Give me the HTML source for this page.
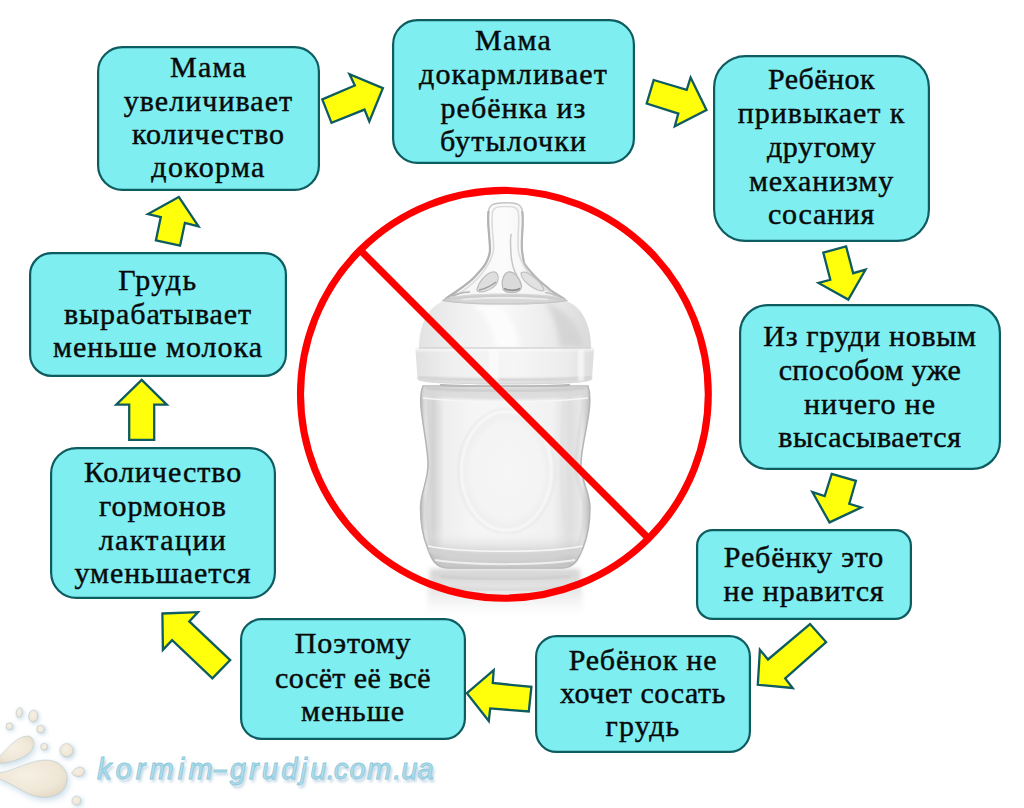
<!DOCTYPE html>
<html lang="ru">
<head>
<meta charset="utf-8">
<title>Докорм из бутылочки</title>
<style>
html,body{margin:0;padding:0;background:#fff;}
body{width:1024px;height:808px;position:relative;overflow:hidden;font-family:"Liberation Serif",serif;}
.t{position:absolute;text-align:center;white-space:nowrap;font-size:30px;line-height:34px;height:34px;letter-spacing:0.8px;color:#0a0a0a;-webkit-text-stroke:0.45px #0a0a0a;}
svg{position:absolute;left:0;top:0;}
#logo{position:absolute;left:97px;top:749px;font-family:"Liberation Sans",sans-serif;font-style:italic;font-weight:normal;font-size:29px;line-height:40px;color:#B0E0EE;-webkit-text-stroke:0.9px #8FC8DB;white-space:nowrap;text-shadow:2px 3px 3px rgba(150,185,210,0.7);}
#logo span{position:absolute;top:0;display:block;}
</style>
</head>
<body>
<svg id="art" width="1024" height="808" viewBox="0 0 1024 808">
<defs>
  <linearGradient id="gBody" x1="0" y1="0" x2="1" y2="0">
    <stop offset="0" stop-color="#bdbdbd"/>
    <stop offset="0.03" stop-color="#e2e2e2"/>
    <stop offset="0.075" stop-color="#d2d2d2"/>
    <stop offset="0.14" stop-color="#eeeeee"/>
    <stop offset="0.3" stop-color="#f5f5f5"/>
    <stop offset="0.5" stop-color="#f6f6f6"/>
    <stop offset="0.78" stop-color="#f1f1f1"/>
    <stop offset="0.88" stop-color="#dedede"/>
    <stop offset="0.95" stop-color="#e8e8e8"/>
    <stop offset="1" stop-color="#bcbcbc"/>
  </linearGradient>
  <linearGradient id="gBodyV" x1="0" y1="0" x2="0" y2="1">
    <stop offset="0" stop-color="#bbb" stop-opacity="0.35"/>
    <stop offset="0.08" stop-color="#fff" stop-opacity="0"/>
    <stop offset="0.78" stop-color="#fff" stop-opacity="0"/>
    <stop offset="0.9" stop-color="#bdbdbd" stop-opacity="0.45"/>
    <stop offset="1" stop-color="#b0b0b0" stop-opacity="0.7"/>
  </linearGradient>
  <linearGradient id="gCap" x1="0" y1="0" x2="1" y2="0">
    <stop offset="0" stop-color="#e2e2e2"/>
    <stop offset="0.25" stop-color="#f1f1f1"/>
    <stop offset="0.5" stop-color="#f8f8f8"/>
    <stop offset="0.72" stop-color="#eeeeee"/>
    <stop offset="1" stop-color="#dadada"/>
  </linearGradient>
  <linearGradient id="gRing" x1="0" y1="0" x2="1" y2="0">
    <stop offset="0" stop-color="#e1e1e1"/>
    <stop offset="0.2" stop-color="#efefef"/>
    <stop offset="0.55" stop-color="#f6f6f6"/>
    <stop offset="0.85" stop-color="#ececec"/>
    <stop offset="1" stop-color="#dddddd"/>
  </linearGradient>
  <linearGradient id="gRingV" x1="0" y1="0" x2="0" y2="1">
    <stop offset="0" stop-color="#fff" stop-opacity="0.8"/>
    <stop offset="0.15" stop-color="#fff" stop-opacity="0"/>
    <stop offset="0.8" stop-color="#ccc" stop-opacity="0"/>
    <stop offset="1" stop-color="#bbb" stop-opacity="0.55"/>
  </linearGradient>
  <linearGradient id="gNip" x1="0" y1="0" x2="1" y2="0">
    <stop offset="0" stop-color="#cfcfcf"/>
    <stop offset="0.12" stop-color="#f4f4f4"/>
    <stop offset="0.5" stop-color="#fbfbfb"/>
    <stop offset="0.88" stop-color="#f0f0f0"/>
    <stop offset="1" stop-color="#cdcdcd"/>
  </linearGradient>
  <linearGradient id="gRefl" x1="0" y1="0" x2="0" y2="1">
    <stop offset="0" stop-color="#cfcfcf" stop-opacity="0.95"/>
    <stop offset="0.4" stop-color="#e0e0e0" stop-opacity="0.8"/>
    <stop offset="1" stop-color="#ffffff" stop-opacity="0"/>
  </linearGradient>
  <radialGradient id="gOval" cx="0.5" cy="0.5" r="0.5">
    <stop offset="0" stop-color="#f6f6f6"/>
    <stop offset="0.8" stop-color="#f4f4f4"/>
    <stop offset="1" stop-color="#ededed"/>
  </radialGradient>
  <filter id="blur05"><feGaussianBlur stdDeviation="0.5"/></filter>
  <filter id="blur1"><feGaussianBlur stdDeviation="1"/></filter>
  <filter id="blur2"><feGaussianBlur stdDeviation="2.5"/></filter>
</defs>
<g id="bottle">
  <!-- reflection -->
  <path d="M430,569 L580,569 C582,590 583,605 584,622 L426,622 C427,605 428,590 430,569 Z" fill="url(#gRefl)" filter="url(#blur2)"/>
  <path d="M440,576 C470,580 540,580 570,576" fill="none" stroke="#cfcfcf" stroke-width="3.5" filter="url(#blur1)"/>
  <path d="M436,586 C470,591 540,591 574,586" fill="none" stroke="#dadada" stroke-width="3.5" filter="url(#blur1)"/>
  <!-- glass body -->
  <path d="M423,386 L588,386 C590,392 590.5,400 589,412 C585.5,436 581,450 581,464 C581,482 590,492 590,508 C590,524 587,538 583,548 C579,558 575,568 562,568 L448,568 C435,568 431,558 427.5,548 C423.5,538 420.5,524 420.5,508 C420.5,492 428,482 428,464 C428,450 424.5,436 421.5,412 C420,400 420.5,392 423,386 Z" fill="url(#gBody)"/>
  <path d="M423,386 L588,386 C590,392 590.5,400 589,412 C585.5,436 581,450 581,464 C581,482 590,492 590,508 C590,524 587,538 583,548 C579,558 575,568 562,568 L448,568 C435,568 431,558 427.5,548 C423.5,538 420.5,524 420.5,508 C420.5,492 428,482 428,464 C428,450 424.5,436 421.5,412 C420,400 420.5,392 423,386 Z" fill="url(#gBodyV)"/>
  <path d="M423,386 L588,386 C590,392 590.5,400 589,412 C585.5,436 581,450 581,464 C581,482 590,492 590,508 C590,524 587,538 583,548 C579,558 575,568 562,568 L448,568 C435,568 431,558 427.5,548 C423.5,538 420.5,524 420.5,508 C420.5,492 428,482 428,464 C428,450 424.5,436 421.5,412 C420,400 420.5,392 423,386 Z" fill="none" stroke="#b4b4b4" stroke-width="1.5" filter="url(#blur05)"/>
  <!-- inner side contours -->
  <path d="M428,392 C427,410 432,440 433.5,464 C433.5,482 426.5,494 426.5,508 C426.5,526 430,544 436,556" fill="none" stroke="#d2d2d2" stroke-width="1.6" filter="url(#blur1)"/>
  <path d="M583,392 C584,410 577,440 575.5,464 C575.5,482 584,494 584,508 C584,526 580,544 575,556" fill="none" stroke="#d4d4d4" stroke-width="1.6" filter="url(#blur1)"/>
  <path d="M564,400 C562,430 560,470 563,500 C564,520 566,532 568,542" fill="none" stroke="#e0e0e0" stroke-width="2" filter="url(#blur1)"/>
  <!-- embossed oval -->
  <ellipse cx="506.5" cy="471" rx="45" ry="59" fill="url(#gOval)"/>
  <ellipse cx="506.5" cy="471" rx="45" ry="59" fill="none" stroke="#f9f9f9" stroke-width="2.6" filter="url(#blur1)"/>
  <ellipse cx="506.5" cy="471" rx="48" ry="62" fill="none" stroke="#e2e2e2" stroke-width="1.2" filter="url(#blur1)"/>
  <!-- glass base -->
  <path d="M428,546 C460,553 550,553 582.5,546" fill="none" stroke="#f7f7f7" stroke-width="1.6"/>
  <path d="M429,550 C460,558 550,558 581,550" fill="none" stroke="#d2d2d2" stroke-width="4" filter="url(#blur1)"/>
  <path d="M435,560 C470,565.5 540,565.5 575,560" fill="none" stroke="#efefef" stroke-width="2"/>
  <path d="M441,565.5 C470,568 540,568 569,565.5" fill="none" stroke="#c6c6c6" stroke-width="2.4" filter="url(#blur1)"/>
  <!-- neck / shoulder -->
  <path d="M424,386 L587,386 L588,396 C540,401 470,401 423,396 Z" fill="#d9d9d9" opacity="0.8" filter="url(#blur1)"/>
  <path d="M426,388 C470,392 540,392 585,388" fill="none" stroke="#c0c0c0" stroke-width="1.6" filter="url(#blur1)"/>
  <path d="M423,398 C470,403.5 540,403.5 588,398" fill="none" stroke="#f6f6f6" stroke-width="1.5"/>
  <!-- collar ring -->
  <path d="M415.5,350 C415.5,348 417,347.5 419,347.5 L590.5,347.5 C592.5,347.5 594,348 594,350 L592,379 C592,382 575,384.5 504.5,384.5 C434,384.5 417.5,382 417.5,379 Z" fill="url(#gRing)"/>
  <path d="M415.5,350 C415.5,348 417,347.5 419,347.5 L590.5,347.5 C592.5,347.5 594,348 594,350 L592,379 C592,382 575,384.5 504.5,384.5 C434,384.5 417.5,382 417.5,379 Z" fill="url(#gRingV)"/>
  <path d="M440,384.8 C470,387.2 540,387.2 570,384.8" fill="none" stroke="#b9b9b9" stroke-width="2.2" filter="url(#blur05)"/>
  <path d="M418,377 C440,381 570,381 591.5,377" fill="none" stroke="#d2d2d2" stroke-width="3" filter="url(#blur1)"/>
  <rect x="489" y="349" width="10" height="33" fill="#ffffff" opacity="0.55" filter="url(#blur1)"/>
  <rect x="578" y="349" width="6" height="32" fill="#ffffff" opacity="0.6" filter="url(#blur1)"/>
  <!-- cap dome -->
  <path d="M419,348 C419,322 430,304 447,300 L563,300 C580,304 591,322 591,348 Z" fill="url(#gCap)"/>
  <path d="M545,302 C566,310 580,326 584,347 L560,347 C558,328 552,312 545,302 Z" fill="#cfcfcf" opacity="0.7" filter="url(#blur2)"/>
  <path d="M470,304 C486,312 494,330 496,347 L520,347 C517,330 508,312 495,304 Z" fill="#ffffff" opacity="0.7" filter="url(#blur2)"/>
  <path d="M419,348 L591,348" stroke="#d4d4d4" stroke-width="1.5"/>
  <!-- nipple -->
  <path id="nip" d="M443,300.5 C449,296 453,294 457,291 C464,286 470,282 474.6,277 C480,271 484,267 486,263 C488.5,258 490,254 490,250 C490,245 489.5,240 489,234 C488.2,226 487.8,218 488.5,211 C489.5,204.5 494,202.7 505.4,202.7 C516.8,202.7 521.5,204.5 522.3,211 C523,218 522.8,226 522.2,234 C521.8,240 521.6,245 522,250 C522.4,254 523,258 524,263 C526,267 530,271 535.5,277 C540,282 546,286 551,290.7 C556,294 561,297 566.5,300.5 C540,305 470,305 443,300.5 Z" fill="url(#gNip)" stroke="#c2c2c2" stroke-width="1.4"/>
  <path d="M445,299.5 C449,296 453,294 457,291 C464,286 470,282 474.6,277 C480,271 484,267 486,263 C488.5,258 490,254 490,250 C490,245 489.5,240 489,234 C488.2,226 487.8,218 488.5,211" fill="none" stroke="#b2b2b2" stroke-width="2.2" filter="url(#blur05)"/>
  <path d="M565,299.5 C561,297 556,294 551,290.7 C546,286 540,282 535.5,277 C530,271 526,267 524,263 C523,258 522.4,254 522,250 C521.6,245 521.8,240 522.2,234 C522.8,226 523,218 522.3,211" fill="none" stroke="#b6b6b6" stroke-width="2.2" filter="url(#blur05)"/>
  <!-- inner wall -->
  <path d="M452,298 C462,292 472,285 479,277 C486,269 492,260 493.5,250 C494,244 493,238 492.5,232 C492,224 491.8,217 492.5,212 C493.5,207.5 497,206.5 505.4,206.5 C513.8,206.5 517.5,207.5 518.3,212 C519,217 518.8,224 518.3,232 C518,238 517.8,244 518.3,250 C519.5,260 525,269 532,277 C539,285 549,292 558,298" fill="none" stroke="#dcdcdc" stroke-width="1.6"/>
  <!-- air valve line -->
  <path d="M511.5,234 C510,236 510.5,246 511,254 C511.5,262 513.5,270 517,276" fill="none" stroke="#c6c6c6" stroke-width="1.5"/>
  <!-- petals -->
  <path d="M477,290 C478,283 485,274 492,272 C497,271 499,275 498,280 C497,285 492,289 486,291 C481,292.5 477,292 477,290 Z" fill="#dedede" stroke="#bdbdbd" stroke-width="1.2"/>
  <path d="M479,290 C484,289 491,286 496,282" fill="none" stroke="#9c9c9c" stroke-width="1.3"/>
  <path d="M503,289 C501,282 503,274 508,272 C514,270.5 520,278 521.5,286 C522,290 518,292.5 512,292.5 C507,292.5 504,291.5 503,289 Z" fill="#dadada" stroke="#b8b8b8" stroke-width="1.2"/>
  <path d="M504,288.5 C509,291 516,291 520,288.5" fill="none" stroke="#8e8e8e" stroke-width="1.6"/>
  <path d="M521,273 C524,271 529,273 535,278 C540,282.5 544,288 544,290.5 C541,292 534,289 529,285 C524,281 521,276 521,273 Z" fill="#e2e2e2" stroke="#c0c0c0" stroke-width="1.2"/>
  <!-- base rim -->
  <path d="M444,300 C452,295.5 470,293.5 505,293.5 C540,293.5 558,295.5 566,300 C550,303.5 530,304.5 505,304.5 C480,304.5 460,303.5 444,300 Z" fill="#cdcdcd" opacity="0.75" filter="url(#blur05)"/>
  <path d="M462,299.5 C480,297 530,297 548,299.5" fill="none" stroke="#ececec" stroke-width="2" filter="url(#blur05)"/>
  <path d="M446,299.5 C480,294.5 530,294.5 564,299.5" fill="none" stroke="#cdcdcd" stroke-width="2"/>
  <path d="M452,296 C458,293.5 464,292 470,292" fill="none" stroke="#b4b4b4" stroke-width="1.4"/>
  <path d="M558,296 C553,294 549,293 545,292.5" fill="none" stroke="#c0c0c0" stroke-width="1.4"/>
</g>

<g fill="none" stroke="#FF0000" stroke-width="7.1">
<circle cx="504.4" cy="394.3" r="203.9"/>
<line x1="360.2" y1="250.1" x2="648.6" y2="538.5"/>
</g>
<g fill="#FFFF0C" stroke="#0E5C60" stroke-width="2.3" stroke-linejoin="miter">
<polygon points="322.3,99.4 354.8,85.5 349.5,74.1 382.9,88.1 369.3,121.5 364.5,109.6 331.5,122.8"/>
<polygon points="653.7,80.0 686.7,89.9 690.6,77.6 706.5,110.1 674.8,126.3 678.3,113.6 646.7,103.5"/>
<polygon points="823.3,252.6 846.1,246.4 853.2,273.2 865.5,269.7 848.3,299.6 818.5,282.9 830.3,279.8"/>
<polygon points="831.7,473.9 855.9,480.9 849.3,503.8 861.2,507.5 829.5,522.4 812.4,492.1 824.7,496.0"/>
<polygon points="810.0,624.0 826.1,642.1 785.2,678.4 792.7,688.0 757.8,684.8 759.9,649.8 768.0,659.5"/>
<polygon points="531.4,686.9 528.8,711.5 490.2,708.4 488.8,721.0 466.9,693.1 493.7,670.2 492.8,683.0"/>
<polygon points="162.4,613.5 197.9,612.2 189.3,621.4 230.2,660.1 212.4,678.4 172.1,640.2 162.9,649.9"/>
<polygon points="141.7,379.9 166.8,404.7 154.2,404.7 154.2,439.8 129.2,439.8 129.2,404.7 116.3,404.7"/>
<polygon points="178.8,196.9 198.5,226.3 184.9,222.8 180.1,245.6 155.9,240.4 160.8,217.1 148.0,214.0"/>
</g>
<g fill="#7FEEF1" stroke="#0E5C60" stroke-width="2.2">
<rect x="98.10" y="47.10" width="220.80" height="142.80" rx="24.4" ry="24.4"/>
<rect x="393.10" y="20.10" width="240.80" height="142.80" rx="24.4" ry="24.4"/>
<rect x="714.10" y="56.10" width="214.80" height="184.80" rx="31.4" ry="31.4"/>
<rect x="740.10" y="305.10" width="259.80" height="163.80" rx="27.4" ry="27.4"/>
<rect x="697.10" y="530.10" width="213.80" height="88.80" rx="15.4" ry="15.4"/>
<rect x="536.10" y="636.10" width="213.80" height="115.80" rx="20.4" ry="20.4"/>
<rect x="241.10" y="619.10" width="223.80" height="119.80" rx="20.4" ry="20.4"/>
<rect x="51.10" y="448.10" width="223.80" height="149.80" rx="25.4" ry="25.4"/>
<rect x="30.10" y="253.10" width="255.80" height="122.80" rx="21.4" ry="21.4"/>
</g>
<defs>
  <radialGradient id="gDrop" cx="0.45" cy="0.4" r="0.65">
    <stop offset="0" stop-color="#f6f0e4"/>
    <stop offset="0.7" stop-color="#efe6d6"/>
    <stop offset="1" stop-color="#e4d9c6"/>
  </radialGradient>
  <filter id="sh" x="-30%" y="-30%" width="160%" height="160%"><feGaussianBlur stdDeviation="3.2"/></filter>
  <filter id="sh2" x="-50%" y="-50%" width="200%" height="200%"><feGaussianBlur stdDeviation="2"/></filter>
</defs>
<g id="splash">
  <!-- soft blue shadows -->
  <g fill="#b9d3e2" opacity="0.75" filter="url(#sh)">
    <path d="M-4,759 C6,752 14,737 27,736 C35,736 36,746 30,752 C22,760 8,763 -4,764 Z" transform="translate(2,3)"/>
    <path d="M-4,773 C14,772 28,760 46,760 C60,760 68,770 67,780 C66,792 54,799 40,797 C24,795 12,782 -4,778 Z" transform="translate(2,3)"/>
  </g>
  <g fill="#b9d3e2" opacity="0.8" filter="url(#sh2)">
    <ellipse cx="20.5" cy="714" rx="3.5" ry="5.5"/>
    <ellipse cx="34.5" cy="717.5" rx="5" ry="6.5"/>
    <circle cx="10.5" cy="727.5" r="4"/>
    <circle cx="42" cy="730.5" r="4.5"/>
    <circle cx="45.5" cy="748" r="4"/>
    <circle cx="68" cy="752" r="7.5"/>
    <ellipse cx="80" cy="773" rx="6.5" ry="5"/>
    <circle cx="78" cy="802" r="5"/>
  </g>
  <!-- drops -->
  <g fill="url(#gDrop)" stroke="#9fb9c6" stroke-opacity="0.55" stroke-width="0.7">
    <path d="M-4,759 C6,752 14,737 27,736 C35,736 36,746 30,752 C22,760 8,763 -4,764 Z"/>
    <path d="M-4,773 C14,772 28,760 46,760 C60,760 68,770 67,780 C66,792 54,799 40,797 C24,795 12,782 -4,778 Z"/>
    <ellipse cx="19.3" cy="712.6" rx="3" ry="5" transform="rotate(12 19.3 712.6)"/>
    <ellipse cx="33.3" cy="716" rx="4.6" ry="6" transform="rotate(10 33.3 716)"/>
    <circle cx="9.5" cy="726.2" r="3.4"/>
    <circle cx="40.6" cy="729.1" r="3.9"/>
    <circle cx="44.1" cy="746.7" r="3.5"/>
    <circle cx="66.5" cy="750.2" r="6.6"/>
    <path d="M71.5,773 C75,768 80,766 83,768 C86,771 84,776 79,776.5 C76,776.8 73,775 71.5,773 Z"/>
    <circle cx="76.4" cy="800.6" r="4.5"/>
  </g>
</g>

</svg>
<div class="t" style="left:97px;width:223px;top:50.2px;letter-spacing:1.2px">Мама</div>
<div class="t" style="left:97px;width:223px;top:84.3px;letter-spacing:1.05px">увеличивает</div>
<div class="t" style="left:97px;width:223px;top:117.3px;letter-spacing:1.0px">количество</div>
<div class="t" style="left:97px;width:223px;top:150.3px;letter-spacing:1.35px">докорма</div>
<div class="t" style="left:392px;width:243px;top:22.8px;letter-spacing:1.2px">Мама</div>
<div class="t" style="left:392px;width:243px;top:56.8px;letter-spacing:1.1px">докармливает</div>
<div class="t" style="left:392px;width:243px;top:90.5px;letter-spacing:1.0px">ребёнка из</div>
<div class="t" style="left:392px;width:243px;top:123.5px;letter-spacing:1.1px">бутылочки</div>
<div class="t" style="left:713px;width:217px;top:62.0px;letter-spacing:0.45px">Ребёнок</div>
<div class="t" style="left:713px;width:217px;top:96.3px;letter-spacing:0.9px">привыкает к</div>
<div class="t" style="left:713px;width:217px;top:129.8px;letter-spacing:0.6px">другому</div>
<div class="t" style="left:713px;width:217px;top:163.6px;letter-spacing:0.85px">механизму</div>
<div class="t" style="left:713px;width:217px;top:197.4px;letter-spacing:0.75px">сосания</div>
<div class="t" style="left:739px;width:262px;top:318.7px;letter-spacing:0.65px">Из груди новым</div>
<div class="t" style="left:739px;width:262px;top:352.8px;letter-spacing:0.4px">способом уже</div>
<div class="t" style="left:739px;width:262px;top:386.7px;letter-spacing:0.9px">ничего не</div>
<div class="t" style="left:739px;width:262px;top:419.7px;letter-spacing:0.65px">высасывается</div>
<div class="t" style="left:696px;width:216px;top:539.9px;letter-spacing:0.8px">Ребёнку это</div>
<div class="t" style="left:696px;width:216px;top:573.5px;letter-spacing:0.8px">не нравится</div>
<div class="t" style="left:535px;width:216px;top:643.3px;letter-spacing:0.8px">Ребёнок не</div>
<div class="t" style="left:535px;width:216px;top:676.1px;letter-spacing:0.55px">хочет сосать</div>
<div class="t" style="left:535px;width:216px;top:709.3px;letter-spacing:1.2px">грудь</div>
<div class="t" style="left:240px;width:226px;top:625.8px;letter-spacing:0.8px">Поэтому</div>
<div class="t" style="left:240px;width:226px;top:660.8px;letter-spacing:0.4px">сосёт её всё</div>
<div class="t" style="left:240px;width:226px;top:693.6px;letter-spacing:0.9px">меньше</div>
<div class="t" style="left:50px;width:226px;top:455.1px;letter-spacing:0.95px">Количество</div>
<div class="t" style="left:50px;width:226px;top:488.8px;letter-spacing:0.95px">гормонов</div>
<div class="t" style="left:50px;width:226px;top:522.9px;letter-spacing:1.4px">лактации</div>
<div class="t" style="left:50px;width:226px;top:556.1px;letter-spacing:0.9px">уменьшается</div>
<div class="t" style="left:29px;width:258px;top:263.4px;letter-spacing:1.5px">Грудь</div>
<div class="t" style="left:29px;width:258px;top:296.8px;letter-spacing:0.9px">вырабатывает</div>
<div class="t" style="left:29px;width:258px;top:330.0px;letter-spacing:1.0px">меньше молока</div>
<div id="logo"><span style="left:0.0px;letter-spacing:4.1px;">kormim</span><span style="left:116.8px;letter-spacing:0px;transform:scaleX(0.8);transform-origin:0 50%;">–</span><span style="left:132.7px;letter-spacing:3.2px;">grudju</span><span style="left:229.7px;letter-spacing:0px;">.</span><span style="left:236.7px;letter-spacing:1.4px;">com</span><span style="left:296.3px;letter-spacing:0px;">.</span><span style="left:304.2px;letter-spacing:0.3px;">ua</span></div>
</body>
</html>
